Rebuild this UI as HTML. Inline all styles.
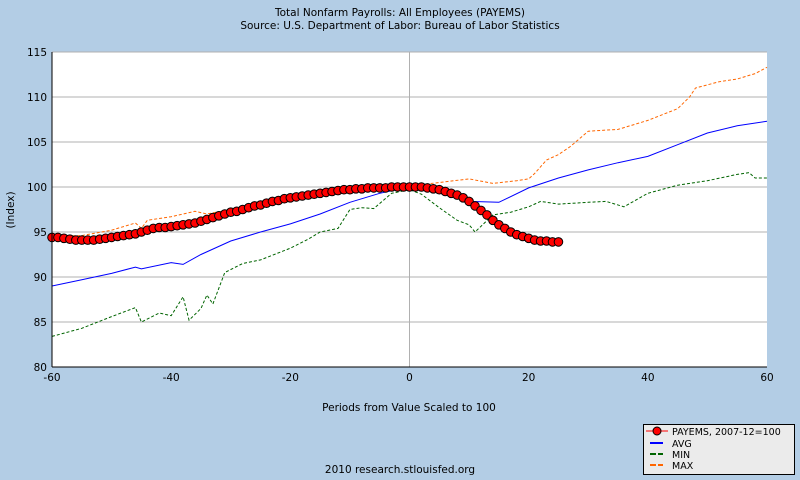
<!DOCTYPE html>
<html><head><meta charset="utf-8"><style>
body{margin:0;background:#b3cde5;}
svg{display:block;font-family:"DejaVu Sans","Liberation Sans",sans-serif;}
</style></head><body>
<svg id="c" width="800" height="480">
<rect x="0" y="0" width="800" height="480" fill="#b3cde5"/>
<text x="400" y="16" font-size="10.5" text-anchor="middle" fill="#000">Total Nonfarm Payrolls: All Employees (PAYEMS)</text>
<text x="400" y="29" font-size="10.5" text-anchor="middle" fill="#000">Source: U.S. Department of Labor: Bureau of Labor Statistics</text>
<rect x="52" y="52" width="715" height="315" fill="#fff"/>
<g id="grid"></g>
<g id="series"></g>
<line x1="52" y1="52" x2="52" y2="367" stroke="#000"/>
<line x1="52" y1="367" x2="767" y2="367" stroke="#000"/>
<g id="ticks" font-size="10.5"></g>
<text x="14" y="210" font-size="10.5" text-anchor="middle" transform="rotate(-90 14 210)">(Index)</text>
<text x="409" y="411" font-size="10.5" text-anchor="middle">Periods from Value Scaled to 100</text>
<text x="400" y="473" font-size="10.5" text-anchor="middle">2010 research.stlouisfed.org</text>
<g>
<rect x="643.5" y="424.5" width="151" height="50" fill="#ebebeb" stroke="#000"/>
<g><line x1="646" y1="431" x2="668" y2="431" stroke="#f00" stroke-width="1"/><circle cx="657" cy="431" r="4" fill="#f00" stroke="#000"/><text x="672" y="435" font-size="9.5">PAYEMS, 2007-12=100</text></g>
<g><line x1="650" y1="443" x2="663" y2="443" stroke="#0000ff" stroke-width="2"/><text x="672" y="447" font-size="9.5">AVG</text></g>
<g><line x1="650" y1="454" x2="663" y2="454" stroke="#006400" stroke-width="2" stroke-dasharray="6,2"/><text x="672" y="458" font-size="9.5">MIN</text></g>
<g><line x1="650" y1="465" x2="663" y2="465" stroke="#ff6600" stroke-width="2" stroke-dasharray="6,2"/><text x="672" y="469" font-size="9.5">MAX</text></g>
</g>
</svg>
<script>
const xTicks=[-60,-40,-20,0,20,40,60];
const yTicks=[80,85,90,95,100,105,110,115];
const payX=[];for(let i=-60;i<=25;i++)payX.push(i);
const payY=[94.4,94.4,94.3,94.2,94.1,94.1,94.1,94.1,94.2,94.3,94.4,94.5,94.6,94.7,94.8,95.0,95.2,95.4,95.5,95.5,95.6,95.7,95.8,95.9,96.0,96.2,96.4,96.6,96.8,97.0,97.2,97.3,97.5,97.7,97.9,98.0,98.2,98.4,98.5,98.7,98.8,98.9,99.0,99.1,99.2,99.3,99.4,99.5,99.6,99.7,99.7,99.8,99.8,99.9,99.9,99.9,99.9,100,100,100,100,100,100,99.9,99.8,99.7,99.5,99.3,99.1,98.8,98.4,97.9,97.4,96.9,96.3,95.8,95.4,95.0,94.7,94.5,94.3,94.1,94.0,94.0,93.9,93.9];
const avgX=[-60,-55,-50,-46,-45,-40,-38,-35,-30,-25,-20,-15,-10,-5,0,5,10,15,20,25,30,35,40,45,50,55,60];
const avgY=[89.0,89.7,90.4,91.1,90.9,91.6,91.4,92.5,94.0,95.0,95.9,97.0,98.3,99.3,100,99.4,98.4,98.3,99.9,101.0,101.9,102.7,103.4,104.7,106.0,106.8,107.3];
const minX=[-60,-55,-50,-46,-45,-42,-40,-38,-37,-35,-34,-33,-31,-28,-25,-20,-17,-15,-12,-10,-8,-6,-3,0,2,5,8,10,11,14,17,20,22,25,30,33,36,40,45,50,55,57,58,60];
const minY=[83.4,84.3,85.6,86.6,85.0,86.0,85.7,87.8,85.2,86.5,88.0,87.0,90.5,91.5,91.9,93.2,94.2,95.0,95.4,97.5,97.7,97.6,99.3,99.7,99.2,97.7,96.3,95.8,95.0,96.9,97.2,97.8,98.4,98.1,98.3,98.4,97.8,99.3,100.2,100.7,101.4,101.6,101.0,101.0];
const maxX=[-60,-55,-50,-46,-45,-44,-40,-36,-34,-30,-25,-20,-15,-10,-5,0,5,10,14,18,20,21,23,25,27,30,35,40,45,47,48,52,55,58,60];
const maxY=[94.5,94.6,95.2,96.0,95.4,96.3,96.7,97.3,97.0,97.5,98.3,98.8,99.3,99.7,100.0,100.1,100.5,100.9,100.4,100.7,100.9,101.5,103.0,103.6,104.5,106.2,106.4,107.4,108.7,110.0,111.0,111.7,112.0,112.6,113.3];
const NS='http://www.w3.org/2000/svg';
const X=v=>52+(v+60)*715/120, Y=v=>52+(115-v)*9;
function mk(t,a,p){const e=document.createElementNS(NS,t);for(const k in a)e.setAttribute(k,a[k]);p.appendChild(e);return e;}
const grid=document.getElementById('grid'),ticks=document.getElementById('ticks'),ser=document.getElementById('series');
yTicks.forEach(v=>{const l=mk('line',{x1:52,x2:767,y1:Y(v),y2:Y(v),stroke:'#b0b0b0'},grid);


const t=mk('text',{x:47,y:Y(v)+4,'text-anchor':'end'},ticks);t.textContent=v;

});
xTicks.forEach(v=>{if(v===0){const l=mk('line',{x1:X(v),x2:X(v),y1:52,y2:367,stroke:'#b0b0b0'},grid);

}
const t=mk('text',{x:X(v),y:381,'text-anchor':'middle'},ticks);t.textContent=v;

});
function line(xs,ys,color,dash,name){const p=mk('polyline',{points:xs.map((x,i)=>X(x)+','+Y(ys[i])).join(' '),fill:'none',stroke:color,'stroke-width':1,'stroke-dasharray':dash||'none'},ser);

}
line(minX,minY,'#006400','3,2','min-line');
line(maxX,maxY,'#ff6600','3,2','max-line');
line(avgX,avgY,'#0000ff',null,'avg-line');
line(payX,payY,'#ff0000',null,'payems-line');
payX.forEach((x,i)=>{const c=mk('circle',{cx:X(x),cy:Y(payY[i]),r:4.3,fill:'#ff0000',stroke:'#000','stroke-width':1},ser);

});
</script>
</body></html>
